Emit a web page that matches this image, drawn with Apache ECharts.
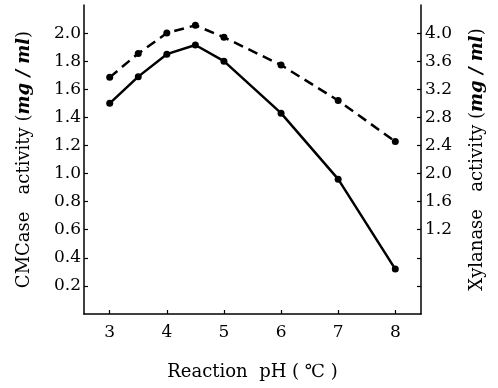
<!DOCTYPE html>
<html>
<head>
<meta charset="utf-8">
<script src="https://cdn.jsdelivr.net/npm/echarts@6/dist/echarts.min.js"></script>
<style>html,body{margin:0;padding:0;background:#fff}#c{width:498px;height:388px}</style>
</head>
<body>
<div id="c"></div>
<script>
var ph = [3, 3.5, 4, 4.5, 5, 6, 7, 8];
var cmcase = [1.50, 1.69, 1.85, 1.915, 1.80, 1.43, 0.96, 0.32];
var xylanase = [3.37, 3.71, 4.00, 4.11, 3.94, 3.545, 3.04, 2.455];
var xTicks = [3, 4, 5, 6, 7, 8];
var leftTicks = [0.2, 0.4, 0.6, 0.8, 1.0, 1.2, 1.4, 1.6, 1.8, 2.0];
var rightTicks = [0.4, 0.8, 1.2, 1.6, 2.0, 2.4, 2.8, 3.2, 3.6, 4.0];
var rightLabels = [1.2, 1.6, 2.0, 2.4, 2.8, 3.2, 3.6, 4.0];

var FONT = 'DejaVu Serif';
var chart = echarts.init(document.getElementById('c'));
var axisLine = {show: true, lineStyle: {color: '#000', width: 1.5}};
var rich = {
  it: {fontFamily: FONT, fontStyle: 'italic', fontWeight: 'bold', fontSize: 18, color: '#000'}
};
chart.setOption({
  animation: false,
  backgroundColor: '#fff',
  grid: {left: 84, right: 77, top: 5, bottom: 74},
  xAxis: {
    type: 'value', min: 2.55, max: 8.45,
    axisLine: axisLine,
    axisTick: {show: true, inside: true, length: 4, lineStyle: {color: '#000', width: 1.2}, customValues: xTicks},
    axisLabel: {customValues: xTicks, color: '#000', fontFamily: FONT, fontSize: 17, margin: 10},
    splitLine: {show: false},
    name: 'Reaction  pH ( \u2103 )', nameLocation: 'middle', nameGap: 49,
    nameTextStyle: {fontFamily: FONT, fontSize: 18, color: '#000'}
  },
  yAxis: [{
    type: 'value', min: 0, max: 2.2,
    axisLine: axisLine,
    axisTick: {show: true, inside: true, length: 4, lineStyle: {color: '#000', width: 1.2}, customValues: leftTicks},
    axisLabel: {customValues: leftTicks, color: '#000', fontFamily: FONT, fontSize: 17, margin: 3,
      formatter: function (v) { return v.toFixed(1); }},
    splitLine: {show: false},
    name: 'CMCase   activity ({it|mg / ml})', nameLocation: 'middle', nameRotate: 90, nameGap: 51,
    nameTextStyle: {fontFamily: FONT, fontSize: 18, color: '#000', rich: rich}
  }, {
    type: 'value', min: 0, max: 4.4, position: 'right',
    axisLine: axisLine,
    axisTick: {show: true, inside: true, length: 4, lineStyle: {color: '#000', width: 1.2}, customValues: rightTicks},
    axisLabel: {customValues: rightLabels, color: '#000', fontFamily: FONT, fontSize: 17, margin: 4,
      formatter: function (v) { return v.toFixed(1); }},
    splitLine: {show: false},
    name: 'Xylanase   activity ({it|mg / ml})', nameLocation: 'middle', nameRotate: 90, nameGap: 47,
    nameTextStyle: {fontFamily: FONT, fontSize: 18, color: '#000', rich: rich}
  }],
  series: [{
    type: 'line', yAxisIndex: 0,
    data: ph.map(function (x, i) { return [x, cmcase[i]]; }),
    symbol: 'circle', symbolSize: 7,
    itemStyle: {color: '#000'},
    lineStyle: {color: '#000', width: 2.5}
  }, {
    type: 'line', yAxisIndex: 1,
    data: ph.map(function (x, i) { return [x, xylanase[i]]; }),
    symbol: 'circle', symbolSize: 7,
    itemStyle: {color: '#000'},
    lineStyle: {color: '#000', width: 2.5, type: [10, 6]}
  }]
});
</script>
</body>
</html>
